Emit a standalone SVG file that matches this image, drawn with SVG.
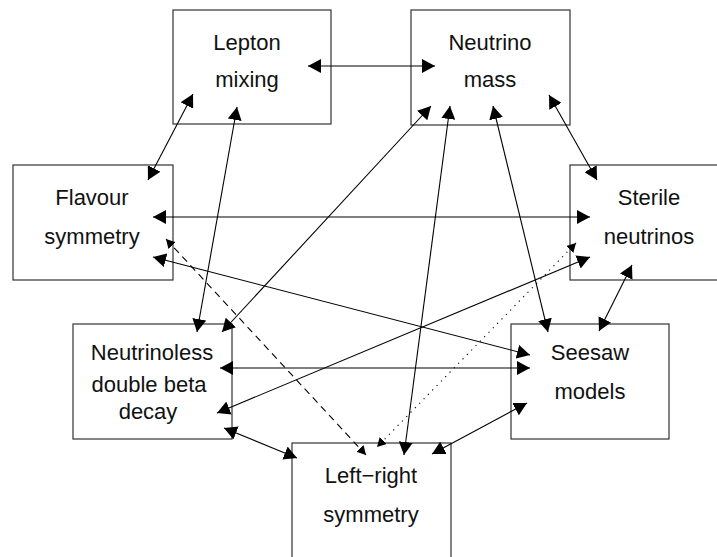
<svg xmlns="http://www.w3.org/2000/svg" width="717" height="557" viewBox="0 0 717 557">
<defs>
<style>
.box{fill:#fff;stroke:#333;stroke-width:1.2}
.lbl{font-family:"Liberation Sans",Arial,sans-serif;font-size:22px;fill:#111;text-anchor:middle}
.c{stroke:#000;stroke-width:1.1;fill:none;marker-start:url(#ah);marker-end:url(#ah)}
.dash{stroke-dasharray:7 5;marker-start:url(#ahs);marker-end:url(#ahs)}
.dot{stroke-dasharray:1.2 5;marker-start:url(#ahs);marker-end:url(#ahs)}
</style>
<marker id="ah" markerUnits="userSpaceOnUse" markerWidth="13" markerHeight="14" viewBox="0 0 13 14" refX="13" refY="7" orient="auto-start-reverse"><path d="M0,0 L13,7 L0,14 z" fill="#000"/></marker>
<marker id="ahs" markerUnits="userSpaceOnUse" markerWidth="9" markerHeight="10" viewBox="0 0 9 10" refX="9" refY="5" orient="auto-start-reverse"><path d="M0,0 L9,5 L0,10 z" fill="#000"/></marker>
</defs>
<rect width="717" height="557" fill="#fff"/>
<g id="lepton-mixing"><rect class="box" x="173" y="10" width="158" height="114"/><text class="lbl" x="247" y="50">Lepton</text><text class="lbl" x="247" y="87">mixing</text></g>
<g id="neutrino-mass"><rect class="box" x="411" y="10" width="159" height="115"/><text class="lbl" x="490" y="50">Neutrino</text><text class="lbl" x="490" y="87">mass</text></g>
<g id="flavour-symmetry"><rect class="box" x="13" y="165" width="160" height="115"/><text class="lbl" x="92" y="205">Flavour</text><text class="lbl" x="92" y="244">symmetry</text></g>
<g id="sterile-neutrinos"><rect class="box" x="570" y="165" width="170" height="115"/><text class="lbl" x="649" y="205">Sterile</text><text class="lbl" x="649" y="244">neutrinos</text></g>
<g id="neutrinoless"><rect class="box" x="73" y="324" width="159" height="115"/><text class="lbl" x="152" y="360">Neutrinoless</text><text class="lbl" x="149" y="392">double beta</text><text class="lbl" x="148" y="419">decay</text></g>
<g id="seesaw-models"><rect class="box" x="511" y="324" width="158" height="115"/><text class="lbl" x="590" y="360">Seesaw</text><text class="lbl" x="590" y="399">models</text></g>
<g id="left-right-symmetry"><rect class="box" x="292" y="443" width="159" height="130"/><text class="lbl" x="371" y="483">Left−right</text><text class="lbl" x="371" y="522">symmetry</text></g>
<g id="connectors">
<line class="c" x1="308" y1="66" x2="435" y2="66"/>
<line class="c" x1="193" y1="94" x2="148" y2="180"/>
<line class="c" x1="237" y1="107" x2="197" y2="332"/>
<line class="c" x1="431" y1="106" x2="222" y2="332"/>
<line class="c" x1="450" y1="106" x2="404" y2="455"/>
<line class="c" x1="493" y1="106" x2="548" y2="332"/>
<line class="c" x1="549" y1="95" x2="597" y2="180"/>
<line class="c" x1="153" y1="217" x2="590" y2="217"/>
<line class="c" x1="153" y1="257" x2="530" y2="355"/>
<line class="c dash" x1="166" y1="239" x2="366" y2="455"/>
<line class="c" x1="220" y1="368" x2="530" y2="368"/>
<line class="c" x1="217" y1="413" x2="590" y2="257"/>
<line class="c" x1="224" y1="428" x2="297" y2="458"/>
<line class="c" x1="527" y1="403" x2="432" y2="454"/>
<line class="c" x1="632" y1="265" x2="599" y2="331"/>
<line class="c dot" x1="576" y1="243" x2="377" y2="447"/>
</g>
</svg>
